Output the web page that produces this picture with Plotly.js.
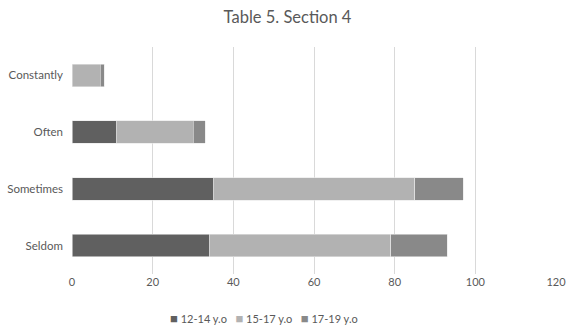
<!DOCTYPE html>
<html>
<head>
<meta charset="utf-8">
<script src="https://cdn.plot.ly/plotly-3.0.1.min.js"></script>
<style>html,body{margin:0;padding:0;background:#fff;}#chart{width:575px;height:334px;}</style>
</head>
<body>
<div id="chart"></div>
<script>
var categories = ["Seldom", "Sometimes", "Often", "Constantly"];
var seriesNames = ["12-14 y.o", "15-17 y.o", "17-19 y.o"];
var age12_14 = [34, 35, 11, 0];
var age15_17 = [45, 50, 19, 7];
var age17_19 = [14, 12, 3, 1];
var xTicks = [0, 20, 40, 60, 80, 100, 120];
var colors = ["#606060", "#b2b2b2", "#898989"];

var values = [age12_14, age15_17, age17_19];
var traces = values.map(function (v, i) {
  return {
    type: "bar",
    orientation: "h",
    name: seriesNames[i],
    y: categories,
    x: v,
    marker: { color: colors[i], line: { color: "#e6e6e6", width: 0.6 } },
    showlegend: false
  };
});

var legendText = seriesNames.map(function (n, i) {
  return '<span style="color:' + colors[i] + ';font-size:13px">\u25A0</span> ' + n;
}).join('&nbsp;&nbsp;&nbsp;');

var layout = {
  width: 575,
  height: 334,
  barmode: "stack",
  bargap: 0.6,
  margin: { l: 72, r: 19, t: 47, b: 60 },
  paper_bgcolor: "#ffffff",
  plot_bgcolor: "#ffffff",
  font: { family: "Lato, 'Open Sans', sans-serif", size: 11, color: "#595959" },
  title: {
    text: "Table 5. Section 4",
    x: 0.5,
    xanchor: "center",
    xref: "container",
    y: 0.949,
    yanchor: "middle",
    font: { size: 16.5, color: "#595959" }
  },
  xaxis: {
    range: [0, 120],
    tickvals: xTicks,
    ticktext: xTicks.map(String),
    showgrid: true,
    gridcolor: "#d9d9d9",
    gridwidth: 1,
    zeroline: false,
    showline: false,
    ticks: "",
    tickfont: { size: 11, color: "#595959" },
    fixedrange: true
  },
  yaxis: {
    type: "category",
    categoryorder: "array",
    categoryarray: categories,
    showgrid: false,
    zeroline: false,
    showline: false,
    ticks: "",
    ticklabelstandoff: 8,
    tickfont: { size: 11.5, color: "#595959" },
    fixedrange: true
  },
  annotations: [{
    xref: "paper",
    yref: "paper",
    x: 0.397,
    y: -0.194,
    xanchor: "center",
    yanchor: "middle",
    showarrow: false,
    text: legendText,
    font: { size: 11, color: "#595959" }
  }],
  showlegend: false
};

Plotly.newPlot("chart", traces, layout, { displayModeBar: false, staticPlot: true });
</script>
</body>
</html>
